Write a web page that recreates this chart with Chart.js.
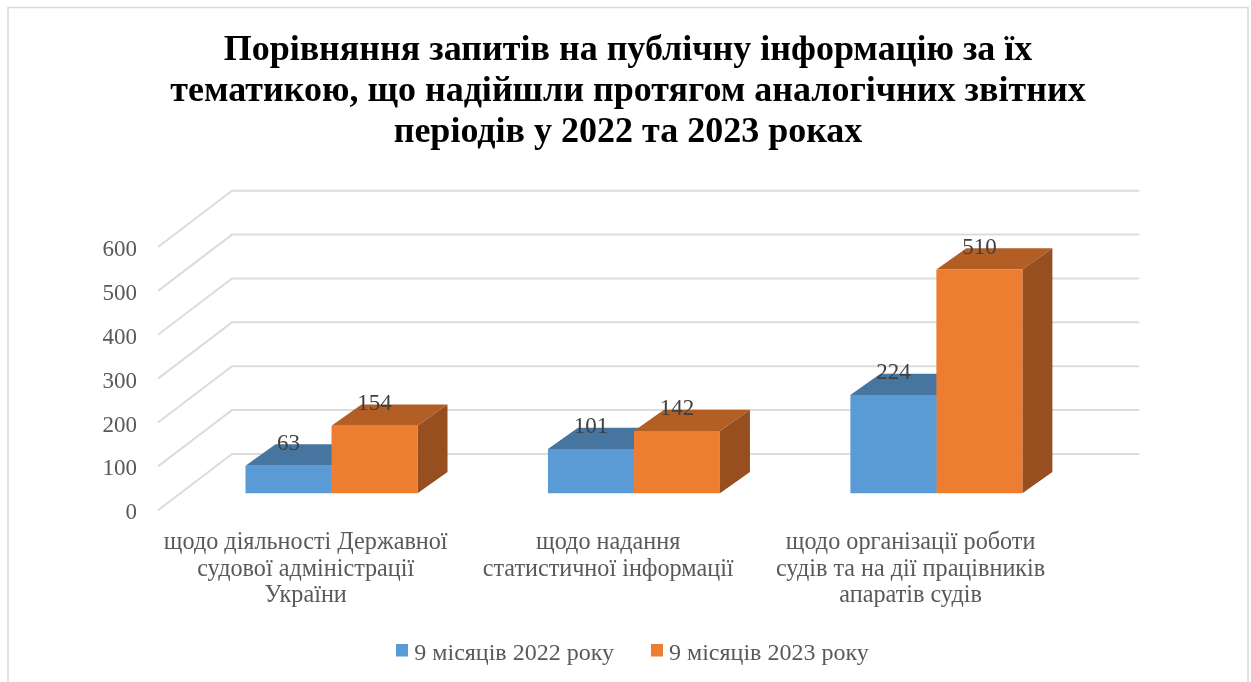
<!DOCTYPE html>
<html>
<head>
<meta charset="utf-8">
<script src="https://cdn.jsdelivr.net/npm/chart.js@4"></script>
<style>
    html, body { margin: 0; padding: 0; background: #fff; overflow: hidden; }
    canvas { display: block; }
</style>
</head>
<body>
<canvas id="requestsChart" width="1251" height="682"></canvas>
<script>
const titleLines = [
    'Порівняння запитів на публічну інформацію за їх',
    'тематикою, що надійшли протягом аналогічних звітних',
    'періодів у 2022 та 2023 роках'
];
const categories = [
    ['щодо діяльності Державної', 'судової адміністрації', 'України'],
    ['щодо надання', 'статистичної інформації'],
    ['щодо організації роботи', 'судів та на дії працівників', 'апаратів судів']
];
const seriesNames = ['9 місяців 2022 року', '9 місяців 2023 року'];
const values2022 = [63, 101, 224];
const values2023 = [154, 142, 510];

const serif = '"Liberation Serif", "Times New Roman", serif';
const plotBottom = 510.3;
const bottomPad = 6.5;

// offsets of the fake 3D view, in pixels
const wallShift = { x: 74, y: -56.3 };
const barShift = { x: 22.3, y: -17 };
const barDepth = { x: 30, y: -21.3 };

const faces = [
    { top: '#4675a0', side: '#3a6286' },
    { top: '#b25e25', side: '#974f1f' }
];

const poly = (ctx, points, color) => {
    ctx.fillStyle = color;
    ctx.beginPath();
    points.forEach((p, i) => i ? ctx.lineTo(p[0], p[1]) : ctx.moveTo(p[0], p[1]));
    ctx.closePath();
    ctx.fill();
};

// legend square, drawn high in a taller image so it sits above the text middle
const legendMark = color => {
    const mark = document.createElement('canvas');
    mark.width = 12;
    mark.height = 20;
    const ctx = mark.getContext('2d');
    ctx.fillStyle = color;
    ctx.fillRect(0, 0, 12, 13);
    return mark;
};

// frame, back wall grid and the shifted bars with their top and side faces
const view3d = {
    id: 'view3d',
    afterLayout(chart) {
        // legend sits a little right of the title centre
        chart.legend.left += 7.5;
        chart.legend.right += 7.5;
        // wide legend padding must not clip the third label line
        chart.scales.x.bottom += 40;
    },
    beforeDraw(chart) {
        const { ctx, chartArea, scales } = chart;
        ctx.save();
        ctx.strokeStyle = '#d9d9d9';
        ctx.lineWidth = 1.5;
        ctx.beginPath();
        ctx.moveTo(8, 682);
        ctx.lineTo(8, 7.5);
        ctx.lineTo(1248, 7.5);
        ctx.lineTo(1248, 682);
        ctx.stroke();
        ctx.strokeStyle = '#dcdcdc';
        ctx.lineWidth = 2;
        scales.y.ticks.forEach(tick => {
            const y = scales.y.getPixelForValue(tick.value);
            ctx.beginPath();
            ctx.moveTo(chartArea.left, y);
            ctx.lineTo(chartArea.left + wallShift.x, y + wallShift.y);
            ctx.lineTo(chartArea.right + wallShift.x, y + wallShift.y);
            ctx.stroke();
        });
        ctx.restore();
    },
    beforeDatasetsDraw(chart) {
        const { ctx } = chart;
        ctx.save();
        ctx.translate(barShift.x, barShift.y);
        chart.data.datasets.forEach((ds, i) => {
            chart.getDatasetMeta(i).data.forEach(bar => {
                const left = bar.x - bar.width / 2;
                const right = bar.x + bar.width / 2;
                poly(ctx, [
                    [left, bar.y],
                    [right, bar.y],
                    [right + barDepth.x, bar.y + barDepth.y],
                    [left + barDepth.x, bar.y + barDepth.y]
                ], faces[i].top);
                poly(ctx, [
                    [right, bar.y],
                    [right + barDepth.x, bar.y + barDepth.y],
                    [right + barDepth.x, bar.base + barDepth.y],
                    [right, bar.base]
                ], faces[i].side);
            });
        });
    },
    afterDatasetsDraw(chart) {
        const { ctx } = chart;
        ctx.font = '23px ' + serif;
        ctx.fillStyle = '#404040';
        ctx.textAlign = 'center';
        ctx.textBaseline = 'middle';
        chart.data.datasets.forEach((ds, i) => {
            chart.getDatasetMeta(i).data.forEach((bar, j) => {
                ctx.fillText(ds.data[j], bar.x, bar.y - 22);
            });
        });
        ctx.restore();
    }
};

new Chart(document.getElementById('requestsChart').getContext('2d'), {
    type: 'bar',
    data: {
        labels: categories,
        datasets: [
            {
                label: seriesNames[0],
                data: values2022,
                backgroundColor: '#5b9bd5',
                pointStyle: legendMark('#5b9bd5'),
                clip: false
            },
            {
                label: seriesNames[1],
                data: values2023,
                backgroundColor: '#ed7d31',
                pointStyle: legendMark('#ed7d31'),
                clip: false
            }
        ]
    },
    plugins: [view3d],
    options: {
        responsive: false,
        animation: false,
        layout: { padding: { left: 5, right: 0, top: 0, bottom: bottomPad } },
        datasets: { bar: { barPercentage: 1, categoryPercentage: 0.5688 } },
        scales: {
            x: {
                grid: { display: false, drawTicks: false },
                border: { display: false },
                ticks: {
                    autoSkip: false,
                    maxRotation: 0,
                    padding: 19,
                    labelOffset: -3.5,
                    color: '#595959',
                    font: { family: serif, size: 24.2, lineHeight: 1.103 }
                },
                afterFit(scale) {
                    scale.height = 682 - plotBottom - scale.chart.legend.height - bottomPad;
                }
            },
            y: {
                min: 0,
                max: 600,
                grid: { display: false, drawTicks: false },
                border: { display: false },
                ticks: {
                    stepSize: 100,
                    padding: 21,
                    labelOffset: 3,
                    color: '#595959',
                    font: { family: serif, size: 23 }
                },
                afterFit(scale) {
                    scale.width = 153;
                }
            },
            // empty axis, only keeps the plot clear of the right side
            margin: {
                position: 'right',
                grid: { display: false, drawTicks: false },
                border: { display: false },
                ticks: { display: false },
                afterFit(scale) {
                    scale.width = 185.7;
                }
            }
        },
        plugins: {
            title: {
                display: true,
                text: titleLines,
                color: '#000000',
                padding: { top: 30.5, bottom: 93.5 },
                font: { family: serif, size: 36, weight: 'bold', lineHeight: 1.139 }
            },
            legend: {
                position: 'bottom',
                labels: {
                    usePointStyle: true,
                    boxWidth: 0.01,
                    boxHeight: 12,
                    padding: 43,
                    color: '#595959',
                    font: { family: serif, size: 24 }
                }
            },
            tooltip: { enabled: false }
        }
    }
});
</script>
</body>
</html>
